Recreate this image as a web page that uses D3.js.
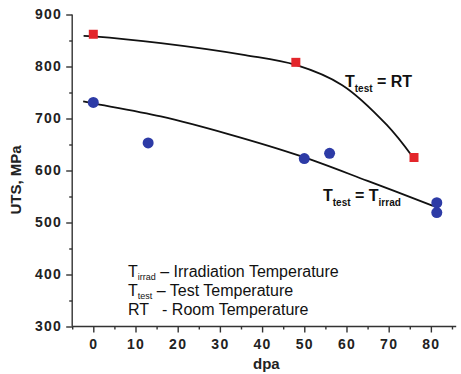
<!DOCTYPE html>
<html>
<head>
<meta charset="utf-8">
<script src="https://cdn.jsdelivr.net/npm/d3@7"></script>
<style>
  body { margin: 0; background: #fff; }
  svg { font-family: "Liberation Sans", Arial, sans-serif; }
</style>
</head>
<body>
<script>
// measured points
var rtDpa = [0, 48, 76];
var rtUts = [862, 808, 625];
var irrDpa = [0, 13, 50, 56, 81.4, 81.4];
var irrUts = [731, 653, 623, 633, 538, 519];

// fitted trend lines
var rtFitDpa = [-2.3, 0, 16, 36, 48, 59, 69.5, 75.7];
var rtFitUts = [859, 858, 845, 822, 803, 764, 688, 626];
var irrFitDpa = [-2.4, 0, 16, 32, 49, 65, 80.5];
var irrFitUts = [733, 729, 704, 670, 628, 580, 532];

var xTicks = [0, 10, 20, 30, 40, 50, 60, 70, 80];
var yTicks = [300, 400, 500, 600, 700, 800, 900];

var width = 461, height = 374;

var x = d3.scaleLinear().domain([-5, 86]).range([72.2, 456.2]);
var y = d3.scaleLinear().domain([300, 900]).range([326.5, 14.5]);

var svg = d3.select("body").append("svg")
    .attr("width", width)
    .attr("height", height);

// axes (major + minor ticks)
var yAxis = svg.append("g")
    .attr("transform", `translate(${x(-5)},0)`)
    .call(d3.axisLeft(y).tickValues(yTicks).tickSize(6).tickPadding(4));
var yMinor = svg.append("g")
    .attr("transform", `translate(${x(-5)},0)`)
    .call(d3.axisLeft(y).tickValues(d3.range(350, 900, 100)).tickSize(3).tickFormat(""));

var xAxis = svg.append("g")
    .attr("transform", `translate(0,${y(300)})`)
    .call(d3.axisBottom(x).tickValues(xTicks).tickSize(6).tickPadding(7));
var xMinor = svg.append("g")
    .attr("transform", `translate(0,${y(300)})`)
    .call(d3.axisBottom(x).tickValues(d3.range(-5, 86, 10)).tickSize(3).tickFormat(""));

yMinor.select(".domain").remove();
xMinor.select(".domain").remove();
yAxis.select(".domain").attr("d", `M0,${y(900)}V${y(300)}`);
xAxis.select(".domain").attr("d", `M${x(-5)},0H${x(86)}`);

svg.selectAll(".domain, .tick line")
    .attr("stroke", "#333")
    .attr("stroke-width", 1.4);

svg.selectAll(".tick text")
    .attr("fill", "#222")
    .attr("font-size", 14)
    .attr("font-weight", "bold")
    .attr("letter-spacing", "1.3px")
    .attr("font-family", "Liberation Sans, Arial, sans-serif");

// axis titles
svg.append("text")
    .attr("transform", "translate(21,180) rotate(-90)")
    .attr("text-anchor", "middle")
    .attr("font-size", 15)
    .attr("font-weight", "bold")
    .attr("fill", "#222")
    .text("UTS, MPa");

svg.append("text")
    .attr("x", x(41))
    .attr("y", 369)
    .attr("text-anchor", "middle")
    .attr("font-size", 15)
    .attr("font-weight", "bold")
    .attr("fill", "#222")
    .text("dpa");

// fit lines
var line = d3.line()
    .x(d => x(d[0]))
    .y(d => y(d[1]))
    .curve(d3.curveCatmullRom.alpha(0.5));

svg.append("path")
    .datum(d3.zip(rtFitDpa, rtFitUts))
    .attr("fill", "none")
    .attr("stroke", "#111")
    .attr("stroke-width", 1.8)
    .attr("d", line);

svg.append("path")
    .datum(d3.zip(irrFitDpa, irrFitUts))
    .attr("fill", "none")
    .attr("stroke", "#111")
    .attr("stroke-width", 1.8)
    .attr("d", line);

// markers
svg.append("g")
    .selectAll("rect")
    .data(d3.zip(rtDpa, rtUts))
    .join("rect")
    .attr("x", d => x(d[0]) - 4.5)
    .attr("y", d => y(d[1]) - 4.5)
    .attr("width", 9)
    .attr("height", 9)
    .attr("fill", "#e3262b");

svg.append("g")
    .selectAll("circle")
    .data(d3.zip(irrDpa, irrUts))
    .join("circle")
    .attr("cx", d => x(d[0]))
    .attr("cy", d => y(d[1]))
    .attr("r", 5.5)
    .attr("fill", "#2d3ba6");

// text with subscripts
function subLabel(xp, yp, parts, size, subSize, weight, drop) {
    var t = svg.append("text")
        .attr("x", xp).attr("y", yp)
        .attr("font-size", size)
        .attr("font-weight", weight)
        .attr("fill", "#111");
    var shift = 0;
    parts.forEach(p => {
        var dy = p.sub ? drop - shift : -shift;
        shift = p.sub ? drop : 0;
        t.append("tspan")
            .attr("dy", dy)
            .attr("font-size", p.sub ? subSize : size)
            .text(p.t);
    });
    return t;
}

subLabel(345, 87, [{t: "T"}, {t: "test", sub: true}, {t: " = RT"}], 16, 10, "bold", 5);
subLabel(323, 201, [{t: "T"}, {t: "test", sub: true}, {t: " = T"}, {t: "irrad", sub: true}], 16, 10, "bold", 5);

// legend of symbols
subLabel(128, 277, [{t: "T"}, {t: "irrad", sub: true}, {t: " – Irradiation Temperature"}], 16, 9, "normal", 3);
subLabel(128, 296, [{t: "T"}, {t: "test", sub: true}, {t: " – Test Temperature"}], 16, 9, "normal", 3);
subLabel(128, 315, [{t: "RT   - Room Temperature"}], 16, 9, "normal", 3)
    .style("white-space", "pre");
</script>
</body>
</html>
